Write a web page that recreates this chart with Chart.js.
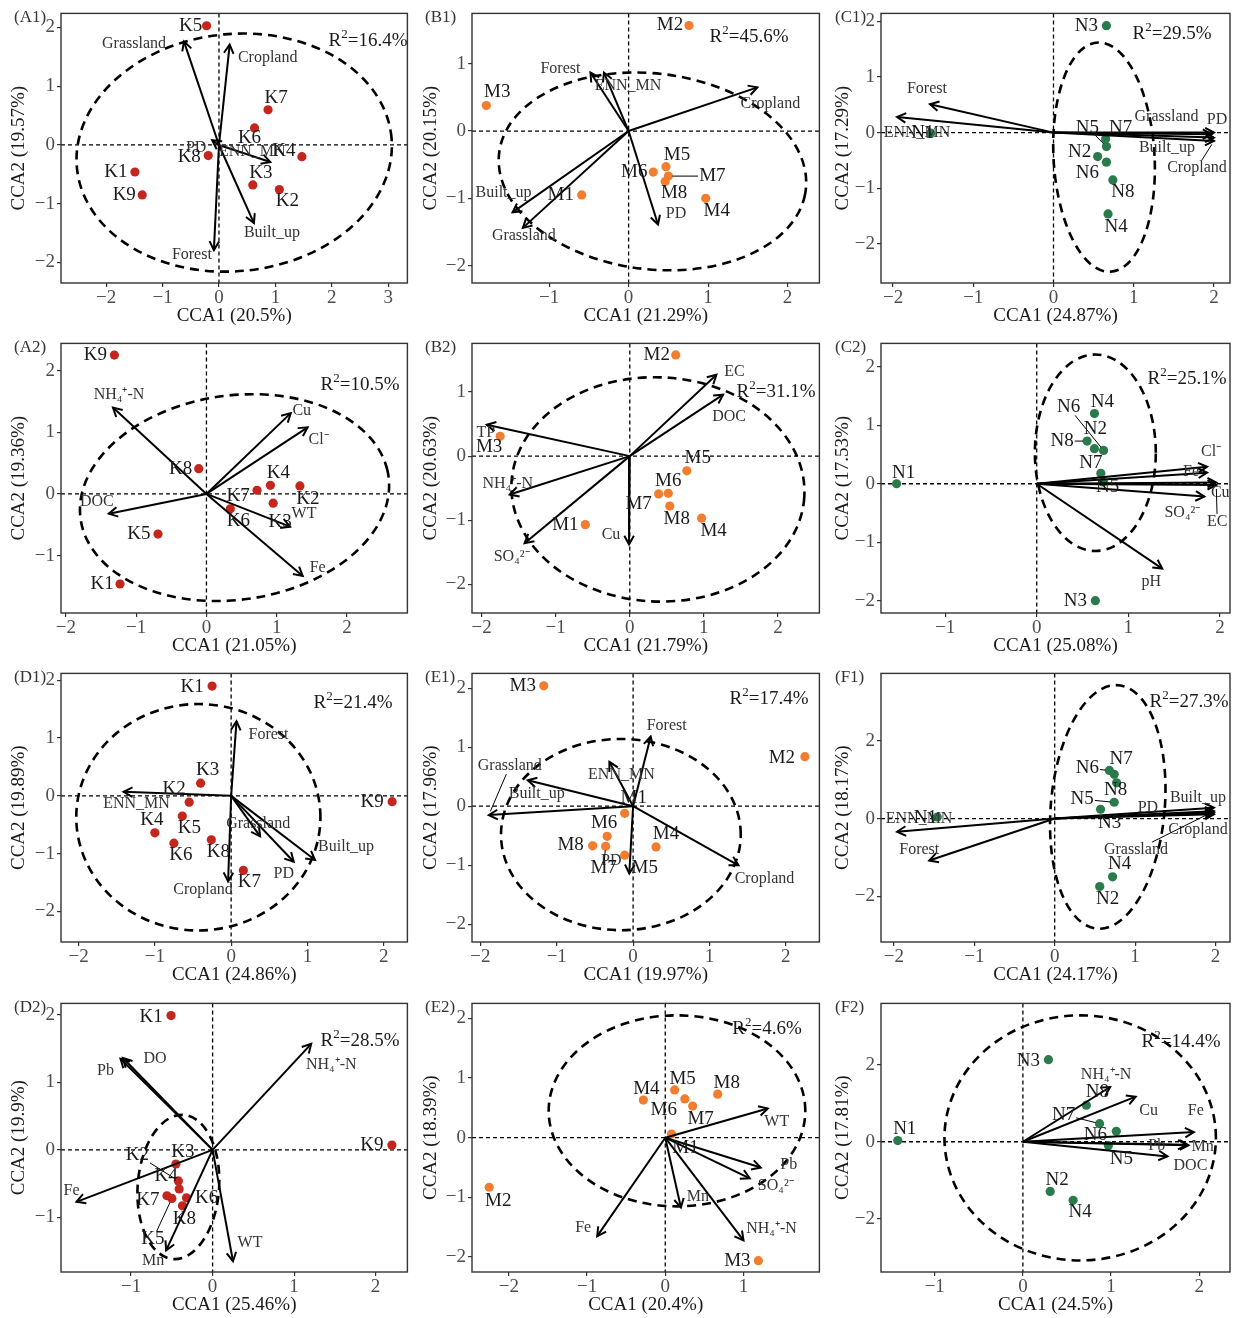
<!DOCTYPE html>
<html>
<head>
<meta charset="utf-8">
<script src="https://cdn.jsdelivr.net/npm/chart.js@4.4.1/dist/chart.umd.min.js"></script>
<style>
  body { margin: 0; background: #fff; width: 1236px; height: 1318px; position: relative; overflow: hidden; }
</style>
</head>
<body>
<script>
const SERIF = '"Liberation Serif", "Times New Roman", serif';
Chart.defaults.font.family = SERIF;

const RED = '#C4261D', ORANGE = '#F27D2E', GREEN = '#2A7A4B';

// ---------- (A1) ----------
const a1Sites = ['K1', 'K2', 'K3', 'K4', 'K5', 'K6', 'K7', 'K8', 'K9'];
const a1SiteX = [-1.49, 1.07, 0.60, 1.47, -0.22, 0.63, 0.87, -0.19, -1.36];
const a1SiteY = [-0.46, -0.76, -0.68, -0.20, 2.03, 0.29, 0.60, -0.18, -0.85];
const a1Vars = ['Grassland', 'Cropland', 'Forest', 'Built_up', 'ENN_MN', 'PD'];
const a1VarX = [-0.62, 0.19, -0.09, 0.62, 0.91, -0.12];
const a1VarY = [1.76, 1.71, -1.79, -1.33, -0.29, 0.08];
const a1Ellipse = [0.27, -0.13, 2.80, 2.02, 5];
const a1R2 = 16.4;
const a1Range = [-2.80, 3.34, -2.35, 2.24];
const a1XTicks = [-2, -1, 0, 1, 2, 3];
const a1YTicks = [-2, -1, 0, 1, 2];

// ---------- (B1) ----------
const b1Sites = ['M1', 'M2', 'M3', 'M4', 'M5', 'M6', 'M7', 'M8'];
const b1SiteX = [-0.59, 0.76, -1.79, 0.97, 0.47, 0.31, 0.50, 0.46];
const b1SiteY = [-0.95, 1.57, 0.38, -1.00, -0.53, -0.61, -0.67, -0.75];
const b1Vars = ['Forest', 'ENN_MN', 'Cropland', 'Built_up', 'Grassland', 'PD'];
const b1VarX = [-0.48, -0.31, 1.62, -1.46, -1.33, 0.37];
const b1VarY = [0.87, 0.87, 0.65, -1.21, -1.44, -1.39];
const b1Ellipse = [0.30, -0.60, 1.95, 1.45, -11];
const b1R2 = 45.6;
const b1Range = [-1.97, 2.40, -2.26, 1.75];
const b1XTicks = [-1, 0, 1, 2];
const b1YTicks = [-2, -1, 0, 1];

// ---------- (C1) ----------
const c1Sites = ['N1', 'N2', 'N3', 'N4', 'N5', 'N6', 'N7', 'N8'];
const c1SiteX = [-1.53, 0.55, 0.66, 0.68, 0.66, 0.66, 0.65, 0.74];
const c1SiteY = [-0.01, -0.43, 1.92, -1.46, -0.25, -0.53, -0.11, -0.85];
const c1Vars = ['Forest', 'ENN_MN', 'Grassland', 'PD', 'Built_up', 'Cropland'];
const c1VarX = [-1.54, -1.95, 1.97, 2.00, 2.00, 2.00];
const c1VarY = [0.51, 0.28, -0.03, 0.00, -0.09, -0.15];
const c1Ellipse = [0.63, -0.44, 0.63, 2.06, 2];
const c1R2 = 29.5;
const c1Range = [-2.15, 2.20, -2.70, 2.14];
const c1XTicks = [-2, -1, 0, 1, 2];
const c1YTicks = [-2, -1, 0, 1, 2];

// ---------- (A2) ----------
const a2Sites = ['K1', 'K2', 'K3', 'K4', 'K5', 'K6', 'K7', 'K8', 'K9'];
const a2SiteX = [-1.23, 1.33, 0.95, 0.91, -0.69, 0.34, 0.72, -0.11, -1.31];
const a2SiteY = [-1.46, 0.13, -0.15, 0.14, -0.65, -0.24, 0.06, 0.41, 2.25];
const a2Vars = ['NH₄⁺-N', 'Cu', 'Cl⁻', 'DOC', 'WT', 'Fe'];
const a2VarX = [-1.33, 1.20, 1.44, -1.39, 1.19, 1.37];
const a2VarY = [1.40, 1.31, 1.08, -0.32, -0.53, -1.33];
const a2Ellipse = [0.40, -0.06, 2.22, 1.65, 11.5];
const a2R2 = 10.5;
const a2Range = [-2.07, 2.86, -1.93, 2.44];
const a2XTicks = [-2, -1, 0, 1, 2];
const a2YTicks = [-1, 0, 1, 2];

// ---------- (B2) ----------
const b2Sites = ['M1', 'M2', 'M3', 'M4', 'M5', 'M6', 'M7', 'M8'];
const b2SiteX = [-0.60, 0.62, -1.75, 0.97, 0.77, 0.52, 0.39, 0.54];
const b2SiteY = [-1.07, 1.58, 0.31, -0.97, -0.23, -0.58, -0.59, -0.78];
const b2Vars = ['EC', 'DOC', 'TP', 'NH₄⁺-N', 'SO₄²⁻', 'Cu'];
const b2VarX = [1.17, 1.26, -1.93, -1.62, -1.42, -0.01];
const b2VarY = [1.27, 0.96, 0.49, -0.60, -1.36, -1.38];
const b2Ellipse = [0.38, -0.52, 1.98, 1.75, -5];
const b2R2 = 31.1;
const b2Range = [-2.13, 2.56, -2.45, 1.76];
const b2XTicks = [-2, -1, 0, 1, 2];
const b2YTicks = [-2, -1, 0, 1];

// ---------- (C2) ----------
const c2Sites = ['N1', 'N2', 'N3', 'N4', 'N5', 'N6', 'N7', 'N8'];
const c2SiteX = [-1.53, 0.63, 0.64, 0.63, 0.72, 0.73, 0.70, 0.55];
const c2SiteY = [0.00, 0.60, -2.00, 1.20, 0.03, 0.57, 0.18, 0.73];
const c2Vars = ['Cl⁻', 'Fe', 'Cu', 'EC', 'SO₄²⁻', 'pH'];
const c2VarX = [1.86, 1.86, 1.96, 1.96, 1.83, 1.37];
const c2VarY = [0.29, 0.19, 0.02, -0.02, -0.22, -1.45];
const c2Ellipse = [0.64, 0.53, 0.66, 1.68, 0];
const c2R2 = 25.1;
const c2Range = [-1.70, 2.11, -2.21, 2.40];
const c2XTicks = [-1, 0, 1, 2];
const c2YTicks = [-2, -1, 0, 1, 2];

// ---------- (D1) ----------
const d1Sites = ['K1', 'K2', 'K3', 'K4', 'K5', 'K6', 'K7', 'K8', 'K9'];
const d1SiteX = [-0.25, -0.55, -0.40, -1.00, -0.64, -0.75, 0.16, -0.26, 2.11];
const d1SiteY = [1.90, -0.11, 0.22, -0.64, -0.35, -0.82, -1.29, -0.76, -0.10];
const d1Vars = ['Forest', 'ENN_MN', 'Grassland', 'PD', 'Built_up', 'Cropland'];
const d1VarX = [0.07, -1.41, 0.38, 0.82, 1.10, -0.04];
const d1VarY = [1.29, 0.07, -0.70, -1.14, -1.11, -1.48];
const d1Ellipse = [-0.43, -0.37, 1.60, 1.96, 0];
const d1R2 = 21.4;
const d1Range = [-2.23, 2.31, -2.53, 2.12];
const d1XTicks = [-2, -1, 0, 1, 2];
const d1YTicks = [-2, -1, 0, 1, 2];

// ---------- (E1) ----------
const e1Sites = ['M1', 'M2', 'M3', 'M4', 'M5', 'M6', 'M7', 'M8'];
const e1SiteX = [-0.11, 2.25, -1.17, 0.30, -0.11, -0.34, -0.36, -0.53];
const e1SiteY = [-0.12, 0.84, 2.04, -0.69, -0.83, -0.51, -0.68, -0.67];
const e1Vars = ['Forest', 'ENN_MN', 'Grassland', 'Built_up', 'Cropland', 'PD'];
const e1VarX = [0.23, -0.31, -1.89, -1.38, 1.38, -0.05];
const e1VarY = [1.18, 0.75, -0.15, 0.44, -1.00, -1.14];
const e1Ellipse = [-0.16, -0.48, 1.57, 1.62, 0];
const e1R2 = 17.4;
const e1Range = [-2.11, 2.44, -2.30, 2.25];
const e1XTicks = [-2, -1, 0, 1, 2];
const e1YTicks = [-2, -1, 0, 1, 2];

// ---------- (F1) ----------
const f1Sites = ['N1', 'N2', 'N3', 'N4', 'N5', 'N6', 'N7', 'N8'];
const f1SiteX = [-1.46, 0.56, 0.57, 0.72, 0.74, 0.68, 0.74, 0.77];
const f1SiteY = [0.04, -1.75, 0.24, -1.50, 0.42, 1.24, 1.14, 0.92];
const f1Vars = ['ENN_MN', 'Forest', 'Built_up', 'PD', 'Cropland', 'Grassland'];
const f1VarX = [-1.96, -1.56, 1.98, 1.98, 1.98, 1.98];
const f1VarY = [-0.34, -1.08, 0.28, 0.15, 0.11, 0.19];
const f1Ellipse = [0.66, 0.30, 0.71, 3.14, -2];
const f1R2 = 27.3;
const f1Range = [-2.16, 2.18, -3.18, 3.74];
const f1XTicks = [-2, -1, 0, 1, 2];
const f1YTicks = [-2, 0, 2];

// ---------- (D2) ----------
const d2Sites = ['K1', 'K2', 'K3', 'K4', 'K5', 'K6', 'K7', 'K8', 'K9'];
const d2SiteX = [-0.51, -0.42, -0.45, -0.41, -0.50, -0.32, -0.56, -0.37, 2.20];
const d2SiteY = [1.99, -0.46, -0.21, -0.58, -0.72, -0.71, -0.68, -0.83, 0.07];
const d2Vars = ['DO', 'Pb', 'NH₄⁺-N', 'Fe', 'Mn', 'WT'];
const d2VarX = [-1.10, -1.13, 1.21, -1.67, -0.57, 0.25];
const d2VarY = [1.36, 1.35, 1.57, -0.77, -1.49, -1.65];
const d2Ellipse = [-0.42, -0.55, 0.50, 1.07, -3];
const d2R2 = 28.5;
const d2Range = [-1.86, 2.39, -1.81, 2.17];
const d2XTicks = [-1, 0, 1, 2];
const d2YTicks = [-1, 0, 1, 2];

// ---------- (E2) ----------
const e2Sites = ['M1', 'M2', 'M3', 'M4', 'M5', 'M6', 'M7', 'M8'];
const e2SiteX = [0.08, -2.25, 1.19, -0.28, 0.12, 0.25, 0.35, 0.67];
const e2SiteY = [0.06, -0.83, -2.06, 0.63, 0.80, 0.65, 0.53, 0.73];
const e2Vars = ['WT', 'Pb', 'SO₄²⁻', 'Mn', 'NH₄⁺-N', 'Fe'];
const e2VarX = [1.31, 1.22, 1.08, 0.20, 1.00, -0.87];
const e2VarY = [0.49, -0.50, -0.68, -1.17, -1.72, -1.65];
const e2Ellipse = [0.15, 0.45, 1.64, 1.60, 0];
const e2R2 = 4.6;
const e2Range = [-2.47, 1.97, -2.25, 2.25];
const e2XTicks = [-2, -1, 0, 1];
const e2YTicks = [-2, -1, 0, 1, 2];

// ---------- (F2) ----------
const f2Sites = ['N1', 'N2', 'N3', 'N4', 'N5', 'N6', 'N7', 'N8'];
const f2SiteX = [-1.42, 0.31, 0.29, 0.57, 0.97, 1.06, 0.87, 0.72];
const f2SiteY = [0.03, -1.29, 2.13, -1.52, -0.10, 0.27, 0.47, 0.95];
const f2Vars = ['NH₄⁺-N', 'Cu', 'Fe', 'Pb', 'Mn', 'DOC'];
const f2VarX = [0.99, 1.28, 1.94, 1.86, 1.88, 1.64];
const f2VarY = [1.42, 1.17, 0.25, -0.08, -0.09, -0.38];
const f2Ellipse = [0.65, 0.10, 1.54, 3.18, 0];
const f2R2 = 14.4;
const f2Range = [-1.61, 2.35, -3.38, 3.59];
const f2XTicks = [-1, 0, 1, 2];
const f2YTicks = [-2, 0, 2];

// label nudges in px (dx, dy, leader line flag) - like ggrepel output
const a1SiteLab = [[-19, 0], [8, 11], [8, -12], [-18, -6], [-16, 0], [-5, 10], [8, -12], [-19, 1], [-18, 0]];
const a1VarLab = [[-50, 2], [38, 13], [-22, 5], [18, 10], [-18, -10], [-16, 8]];
const b1SiteLab = [[-21, 0], [-19, 0], [11, -13], [11, 13], [11, -12], [-19, 0], [44, 0, 1], [9, 12]];
const b1VarLab = [[-30, -4], [24, 13], [13, 16], [-9, -20], [1, 8], [18, -11]];
const c1SiteLab = [[-8, 0], [-18, -5], [-20, 0], [8, 13], [-19, -19, 1], [-19, 11], [15, -11], [10, 12]];
const c1VarLab = [[-3, -15], [20, 16], [-45, -17], [3, -13], [-47, 10], [-17, 27, 1]];
const a2SiteLab = [[-18, 0], [8, 13], [7, 19], [8, -12], [-19, 0], [8, 12], [-19, 6], [-18, 0], [-19, 0]];
const a2VarLab = [[6, -13], [11, -2], [11, 12], [-12, -12], [14, -13], [15, -8]];
const b2SiteLab = [[-20, 0], [-19, 0], [-11, 11], [12, 13], [11, -13], [0, -12], [-20, 10], [7, 13]];
const b2VarLab = [[18, -3], [6, 22], [-1, 8], [-2, -11], [-13, 14], [-18, -10]];
const c2SiteLab = [[7, -11], [1, -20], [-20, 0], [8, -12], [5, 5], [-35, -43, 1], [-10, -10], [-25, 0, 1]];
const c2VarLab = [[4, -15], [-16, -1], [4, 10], [1, 37, 1], [-22, 16], [-11, 13]];
const d1SiteLab = [[-20, 1], [-15, -13], [7, -13], [-3, -13], [7, 12], [7, 12], [6, 12], [7, 12], [-20, 0]];
const d1VarLab = [[32, 13], [13, 12], [-2, -12], [-10, 12], [31, -13], [-25, 8]];
const e1SiteLab = [[9, -15], [-23, 1], [-21, 0], [10, -13], [20, 13], [-3, -13], [-2, 22, 1], [-22, -1]];
const e1VarLab = [[16, -11], [12, 13], [21, -49, 1], [9, 14], [26, 14], [-18, -13]];
const f1SiteLab = [[-12, 1], [8, 13], [9, 14], [7, -13], [-32, -3, 1], [-22, -2, 1], [7, -15], [-1, 7]];
const f1VarLab = [[22, -13], [-10, -11], [-16, -10], [-66, -5], [-16, 15], [-78, 39, 1]];
const d2SiteLab = [[-20, 1], [-41, -26, 1], [7, -12], [-13, -13], [-19, 41, 1], [20, 0], [-19, 4], [2, 13], [-20, 0]];
const d2VarLab = [[32, 1], [-15, 12], [20, 21], [-5, -11], [-13, 10], [17, -18]];
const e2SiteLab = [[14, 14], [9, 14], [-21, 0], [3, -11], [8, -11], [-21, 11], [8, 13], [9, -11]];
const e2VarLab = [[9, 13], [28, -3], [26, 8], [17, -11], [28, -12], [-14, -8]];
const f2SiteLab = [[7, -12], [7, -11], [-20, 1], [7, 12], [13, 13], [-21, 4], [-36, -9, 1], [11, -13]];
const f2VarLab = [[-4, -12], [13, 14], [2, -21], [-30, 1], [14, 2], [23, 9]];

// panel geometry (canvas coords)
const colLeft = [61, 60, 57], colRight = [410, 408, 406];
const rowTop = [12, 12, 11, 11], rowBottom = [283, 283, 282, 282], rowH = [330, 330, 330, 328];
const tagX = [14, 13, 11];
const colColor = [RED, ORANGE, GREEN];

const panels = [
  {tag: 'A1', row: 0, col: 0, xt: 'CCA1 (20.5%)', yt: 'CCA2 (19.57%)', sites: a1Sites, sx: a1SiteX, sy: a1SiteY, vars: a1Vars, vx: a1VarX, vy: a1VarY, ell: a1Ellipse, r2: a1R2, range: a1Range, xTicks: a1XTicks, yTicks: a1YTicks, siteLab: a1SiteLab, varLab: a1VarLab, r2At: [368, 41]},
  {tag: 'B1', row: 0, col: 1, xt: 'CCA1 (21.29%)', yt: 'CCA2 (20.15%)', sites: b1Sites, sx: b1SiteX, sy: b1SiteY, vars: b1Vars, vx: b1VarX, vy: b1VarY, ell: b1Ellipse, r2: b1R2, range: b1Range, xTicks: b1XTicks, yTicks: b1YTicks, siteLab: b1SiteLab, varLab: b1VarLab, r2At: [337, 37]},
  {tag: 'C1', row: 0, col: 2, xt: 'CCA1 (24.87%)', yt: 'CCA2 (17.29%)', sites: c1Sites, sx: c1SiteX, sy: c1SiteY, vars: c1Vars, vx: c1VarX, vy: c1VarY, ell: c1Ellipse, r2: c1R2, range: c1Range, xTicks: c1XTicks, yTicks: c1YTicks, siteLab: c1SiteLab, varLab: c1VarLab, r2At: [348, 34]},
  {tag: 'A2', row: 1, col: 0, xt: 'CCA1 (21.05%)', yt: 'CCA2 (19.36%)', sites: a2Sites, sx: a2SiteX, sy: a2SiteY, vars: a2Vars, vx: a2VarX, vy: a2VarY, ell: a2Ellipse, r2: a2R2, range: a2Range, xTicks: a2XTicks, yTicks: a2YTicks, siteLab: a2SiteLab, varLab: a2VarLab, r2At: [360, 55]},
  {tag: 'B2', row: 1, col: 1, xt: 'CCA1 (21.79%)', yt: 'CCA2 (20.63%)', sites: b2Sites, sx: b2SiteX, sy: b2SiteY, vars: b2Vars, vx: b2VarX, vy: b2VarY, ell: b2Ellipse, r2: b2R2, range: b2Range, xTicks: b2XTicks, yTicks: b2YTicks, siteLab: b2SiteLab, varLab: b2VarLab, r2At: [364, 62]},
  {tag: 'C2', row: 1, col: 2, xt: 'CCA1 (25.08%)', yt: 'CCA2 (17.53%)', sites: c2Sites, sx: c2SiteX, sy: c2SiteY, vars: c2Vars, vx: c2VarX, vy: c2VarY, ell: c2Ellipse, r2: c2R2, range: c2Range, xTicks: c2XTicks, yTicks: c2YTicks, siteLab: c2SiteLab, varLab: c2VarLab, r2At: [363, 49]},
  {tag: 'D1', row: 2, col: 0, xt: 'CCA1 (24.86%)', yt: 'CCA2 (19.89%)', sites: d1Sites, sx: d1SiteX, sy: d1SiteY, vars: d1Vars, vx: d1VarX, vy: d1VarY, ell: d1Ellipse, r2: d1R2, range: d1Range, xTicks: d1XTicks, yTicks: d1YTicks, siteLab: d1SiteLab, varLab: d1VarLab, r2At: [353, 43]},
  {tag: 'E1', row: 2, col: 1, xt: 'CCA1 (19.97%)', yt: 'CCA2 (17.96%)', sites: e1Sites, sx: e1SiteX, sy: e1SiteY, vars: e1Vars, vx: e1VarX, vy: e1VarY, ell: e1Ellipse, r2: e1R2, range: e1Range, xTicks: e1XTicks, yTicks: e1YTicks, siteLab: e1SiteLab, varLab: e1VarLab, r2At: [357, 39]},
  {tag: 'F1', row: 2, col: 2, xt: 'CCA1 (24.17%)', yt: 'CCA2 (18.17%)', sites: f1Sites, sx: f1SiteX, sy: f1SiteY, vars: f1Vars, vx: f1VarX, vy: f1VarY, ell: f1Ellipse, r2: f1R2, range: f1Range, xTicks: f1XTicks, yTicks: f1YTicks, siteLab: f1SiteLab, varLab: f1VarLab, r2At: [365, 42]},
  {tag: 'D2', row: 3, col: 0, xt: 'CCA1 (25.46%)', yt: 'CCA2 (19.9%)', sites: d2Sites, sx: d2SiteX, sy: d2SiteY, vars: d2Vars, vx: d2VarX, vy: d2VarY, ell: d2Ellipse, r2: d2R2, range: d2Range, xTicks: d2XTicks, yTicks: d2YTicks, siteLab: d2SiteLab, varLab: d2VarLab, r2At: [360, 51]},
  {tag: 'E2', row: 3, col: 1, xt: 'CCA1 (20.4%)', yt: 'CCA2 (18.39%)', sites: e2Sites, sx: e2SiteX, sy: e2SiteY, vars: e2Vars, vx: e2VarX, vy: e2VarY, ell: e2Ellipse, r2: e2R2, range: e2Range, xTicks: e2XTicks, yTicks: e2YTicks, siteLab: e2SiteLab, varLab: e2VarLab, r2At: [355, 39]},
  {tag: 'F2', row: 3, col: 2, xt: 'CCA1 (24.5%)', yt: 'CCA2 (17.81%)', sites: f2Sites, sx: f2SiteX, sy: f2SiteY, vars: f2Vars, vx: f2VarX, vy: f2VarY, ell: f2Ellipse, r2: f2R2, range: f2Range, xTicks: f2XTicks, yTicks: f2YTicks, siteLab: f2SiteLab, varLab: f2VarLab, r2At: [357, 52]}
];

const fmtTick = v => (v < 0 ? '\u2212' + Math.abs(v) : String(v));

// short line from an anchor to the edge of its label box
function leader(ctx, x1, y1, x2, y2, halfW) {
  const dx = x2 - x1, dy = y2 - y1;
  const d = Math.hypot(dx, dy);
  const t = Math.min((halfW + 1) / Math.max(Math.abs(dx), 1e-6), 8 / Math.max(Math.abs(dy), 1e-6), 1);
  ctx.beginPath();
  ctx.moveTo(x1 + dx / d * 4, y1 + dy / d * 4);
  ctx.lineTo(x2 - dx * t, y2 - dy * t);
  ctx.stroke();
}

function drawR2(ctx, val, cx, cy) {
  const tail = '=' + val.toFixed(1) + '%';
  ctx.font = '19px ' + SERIF;
  const wR = ctx.measureText('R').width, wT = ctx.measureText(tail).width;
  ctx.font = '13px ' + SERIF;
  const w2 = ctx.measureText('2').width;
  let x = cx - (wR + w2 + wT) / 2;
  ctx.textAlign = 'left';
  ctx.textBaseline = 'middle';
  ctx.fillStyle = '#1a1a1a';
  ctx.font = '19px ' + SERIF;
  ctx.fillText('R', x, cy); x += wR;
  ctx.font = '13px ' + SERIF;
  ctx.fillText('2', x, cy - 6); x += w2;
  ctx.font = '19px ' + SERIF;
  ctx.fillText(tail, x, cy);
}

function makeBiplot(p) {
  return {
    id: 'biplot' + p.tag,
    beforeDatasetsDraw(chart) {
      const {ctx, chartArea: a, scales: {x, y}} = chart;
      const x0 = x.getPixelForValue(0), y0 = y.getPixelForValue(0);
      ctx.save();
      ctx.strokeStyle = '#000';
      ctx.lineWidth = 1.3;
      ctx.setLineDash([4, 3]);
      ctx.beginPath();
      ctx.moveTo(x0, a.top); ctx.lineTo(x0, a.bottom);
      ctx.moveTo(a.left, y0); ctx.lineTo(a.right, y0);
      ctx.stroke();
      // confidence ellipse, defined in data units
      const [cx, cy, rx, ry, ang] = p.ell;
      ctx.save();
      ctx.translate(x.getPixelForValue(cx), y.getPixelForValue(cy));
      ctx.scale(x.getPixelForValue(1) - x0, y.getPixelForValue(1) - y0);
      ctx.beginPath();
      ctx.ellipse(0, 0, rx, ry, ang * Math.PI / 180, 0, Math.PI * 2);
      ctx.restore();
      ctx.lineWidth = 2.6;
      ctx.setLineDash([9, 6]);
      ctx.stroke();
      ctx.restore();
    },
    afterDatasetsDraw(chart) {
      const {ctx} = chart;
      ctx.save();
      ctx.strokeStyle = '#000';
      ctx.lineWidth = 2;
      // arrow heads on the environmental vectors
      p.vars.forEach((v, i) => {
        const pts = chart.getDatasetMeta(i).data;
        const tx = pts[1].x, ty = pts[1].y;
        const th = Math.atan2(ty - pts[0].y, tx - pts[0].x);
        const len = 10, hw = 0.5;
        ctx.beginPath();
        ctx.moveTo(tx - len * Math.cos(th - hw), ty - len * Math.sin(th - hw));
        ctx.lineTo(tx, ty);
        ctx.lineTo(tx - len * Math.cos(th + hw), ty - len * Math.sin(th + hw));
        ctx.stroke();
      });
      ctx.textAlign = 'center';
      ctx.textBaseline = 'middle';
      ctx.lineWidth = 1;
      // variable labels
      ctx.font = '16px ' + SERIF;
      p.vars.forEach((v, i) => {
        const pt = chart.getDatasetMeta(i).data[1];
        const [dx, dy, ld] = p.varLab[i];
        const lx = pt.x + dx, ly = pt.y + dy;
        if (ld) leader(ctx, pt.x, pt.y, lx, ly, ctx.measureText(v).width / 2);
        ctx.fillStyle = '#333';
        ctx.fillText(v, lx, ly);
      });
      // site labels
      ctx.font = '19px ' + SERIF;
      const siteMeta = chart.getDatasetMeta(p.vars.length).data;
      p.sites.forEach((s, i) => {
        const pt = siteMeta[i];
        const [dx, dy, ld] = p.siteLab[i];
        const lx = pt.x + dx, ly = pt.y + dy;
        if (ld) leader(ctx, pt.x, pt.y, lx, ly, ctx.measureText(s).width / 2);
        ctx.fillStyle = '#1a1a1a';
        ctx.fillText(s, lx, ly);
      });
      ctx.restore();
    },
    afterDraw(chart) {
      const {ctx, chartArea: a} = chart;
      ctx.save();
      ctx.strokeStyle = '#333';
      ctx.lineWidth = 1.4;
      ctx.strokeRect(a.left, a.top, a.right - a.left, a.bottom - a.top);
      drawR2(ctx, p.r2, p.r2At[0], p.r2At[1]);
      ctx.font = '17px ' + SERIF;
      ctx.fillStyle = '#333';
      ctx.textAlign = 'left';
      ctx.textBaseline = 'middle';
      ctx.fillText('(' + p.tag + ')', tagX[p.col], 18);
      ctx.restore();
    }
  };
}

panels.forEach(p => {
  const W = 412, H = rowH[p.row];
  const L = colLeft[p.col], R = colRight[p.col], T = rowTop[p.row], B = rowBottom[p.row];
  const cv = document.createElement('canvas');
  cv.width = W;
  cv.height = H;
  cv.style.cssText = `position:absolute;left:${p.col * 412}px;top:${p.row * 330}px;width:${W}px;height:${H}px`;
  document.body.appendChild(cv);

  const datasets = p.vars.map((v, i) => ({
    label: v,
    data: [{x: 0, y: 0}, {x: p.vx[i], y: p.vy[i]}],
    showLine: true,
    borderColor: '#000',
    borderWidth: 2,
    pointRadius: 0,
    clip: false
  }));
  datasets.push({
    label: 'sites',
    data: p.sites.map((s, i) => ({x: p.sx[i], y: p.sy[i]})),
    backgroundColor: colColor[p.col],
    borderWidth: 0,
    pointRadius: 4.6
  });

  const tickFont = {family: SERIF, size: 19};
  const gridOpt = {display: true, drawOnChartArea: false, drawTicks: true, tickLength: 4, color: '#333', lineWidth: 1.2};

  new Chart(cv, {
    type: 'scatter',
    data: {datasets},
    options: {
      responsive: false,
      animation: false,
      events: [],
      layout: {padding: {left: 0, top: T, right: W - R, bottom: H - B - 44}},
      plugins: {legend: {display: false}, tooltip: {enabled: false}},
      scales: {
        x: {
          type: 'linear', min: p.range[0], max: p.range[1],
          afterFit: s => { s.height = 44; },
          afterBuildTicks: s => { s.ticks = p.xTicks.map(v => ({value: v})); },
          ticks: {font: tickFont, color: '#4d4d4d', padding: 0, maxRotation: 0, callback: fmtTick},
          grid: gridOpt,
          border: {display: false},
          title: {display: true, text: p.xt, font: {family: SERIF, size: 19}, color: '#1a1a1a', padding: {top: 0, bottom: 0}}
        },
        y: {
          type: 'linear', min: p.range[2], max: p.range[3],
          afterFit: s => { s.width = L; },
          afterBuildTicks: s => { s.ticks = p.yTicks.map(v => ({value: v})); },
          ticks: {font: tickFont, color: '#4d4d4d', padding: 2, callback: fmtTick},
          grid: gridOpt,
          border: {display: false},
          title: {display: true, text: p.yt, font: {family: SERIF, size: 19}, color: '#1a1a1a', padding: {top: 8, bottom: 0}}
        }
      }
    },
    plugins: [makeBiplot(p)]
  });
});
</script>
</body>
</html>
